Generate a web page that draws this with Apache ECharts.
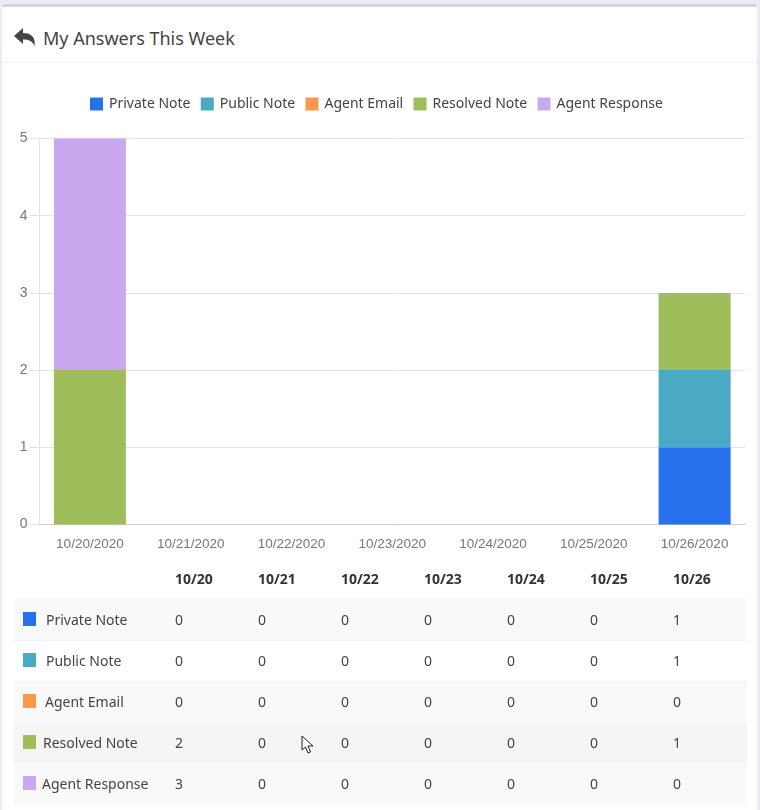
<!DOCTYPE html>
<html>
<head>
<meta charset="utf-8">
<title>My Answers This Week</title>
<script src="https://cdn.jsdelivr.net/npm/echarts@6/dist/echarts.min.js"></script>
<style>
  html, body { margin: 0; padding: 0; background: #e9edf3; }
  body { width: 760px; height: 810px; overflow: hidden; position: relative; font-family: "Noto Sans", sans-serif; color: #333; }
  .card { position: absolute; left: 2px; top: 4px; width: 755px; height: 806px; background: #fff; border-top: 3px solid #d0d4e0; border-radius: 3px 3px 0 0; box-sizing: border-box; }
  .head { position: absolute; left: 2px; top: 7px; width: 755px; height: 56px; border-bottom: 1px solid #f1f1f1; box-sizing: border-box; }
  .head svg { position: absolute; left: 11px; top: 19px; }
  .head span { position: absolute; left: 41px; top: 16px; font-size: 18px; line-height: 30px; color: #444; white-space: nowrap; }
  #chart { position: absolute; left: 0; top: 64px; width: 760px; height: 500px; }
  table { position: absolute; left: 14px; top: 558px; width: 733px; border-collapse: collapse; table-layout: fixed; font-size: 14px; }
  th { height: 41px; padding: 0; text-align: left; font-weight: 700; color: #333; }
  td { height: 41px; padding: 0; position: relative; color: #444; }
  tbody tr:nth-child(odd) { background: #f9f9f9; }
  tbody tr:nth-child(2) td, tbody tr:nth-child(3) td { box-shadow: inset 0 1px 0 #f1f1f1; }
  tbody tr.hover { background: #f5f5f5; }
  .sw { position: absolute; left: 9px; top: 13px; width: 13px; height: 14px; }
  .lb { position: absolute; top: 11px; line-height: 20px; white-space: nowrap; }
  #cursor { position: absolute; left: 301px; top: 735px; }
</style>
</head>
<body>
<div class="card"></div>
<div class="head">
  <svg width="24" height="22" viewBox="0 0 24 22"><path d="M1 10 L10 2 L10 7 C18 7 23 11 21.5 20 C19.5 15 16 13.5 10 13.5 L10 18 Z" fill="#444"/></svg>
  <span>My Answers This Week</span>
</div>
<div id="chart"></div>
<table id="tbl"><thead></thead><tbody></tbody></table>
<svg id="cursor" width="14" height="20" viewBox="0 0 14 20"><path d="M1 1 L1 15 L4.5 12 L7 18 L9.5 17 L7 11 L12 11 Z" fill="#fff" stroke="#222" stroke-width="1"/></svg>
<script>
var categories = ['10/20/2020', '10/21/2020', '10/22/2020', '10/23/2020', '10/24/2020', '10/25/2020', '10/26/2020'];
var shortDays = ['10/20', '10/21', '10/22', '10/23', '10/24', '10/25', '10/26'];
var seriesNames = ['Private Note', 'Public Note', 'Agent Email', 'Resolved Note', 'Agent Response'];
var seriesColors = ['#2771ec', '#4aaac4', '#fb984a', '#9fbd5b', '#c9a8ef'];
var privateNote = [0, 0, 0, 0, 0, 0, 1];
var publicNote = [0, 0, 0, 0, 0, 0, 1];
var agentEmail = [0, 0, 0, 0, 0, 0, 0];
var resolvedNote = [2, 0, 0, 0, 0, 0, 1];
var agentResponse = [3, 0, 0, 0, 0, 0, 0];
var seriesValues = [privateNote, publicNote, agentEmail, resolvedNote, agentResponse];

var myChart = echarts.init(document.getElementById('chart'));
var option = {
  animation: false,
  color: seriesColors,
  textStyle: { fontFamily: 'Liberation Sans' },
  legend: {
    top: 28,
    left: 85,
    itemWidth: 13,
    itemHeight: 13,
    itemGap: 10.3,
    icon: 'rect',
    textStyle: { fontFamily: 'Noto Sans', fontSize: 14, color: '#444', padding: [0, 0, 0, 1] },
    data: seriesNames
  },
  grid: { left: 39.5, right: 15, top: 74.5, height: 386, containLabel: false },
  xAxis: {
    type: 'category',
    data: categories,
    axisTick: { show: false },
    axisLine: { lineStyle: { color: '#ccc', width: 1 } },
    axisLabel: { color: '#777', fontSize: 13.5, margin: 13 }
  },
  yAxis: {
    type: 'value',
    min: 0,
    max: 5,
    interval: 1,
    axisLine: { show: true, lineStyle: { color: '#e3e3e3' } },
    axisTick: { show: true, length: 10, lineStyle: { color: '#e3e3e3' } },
    axisLabel: { color: '#777', fontSize: 14, margin: 12 },
    splitLine: { lineStyle: { color: '#e3e3e3', width: 1 } }
  },
  series: seriesNames.map(function (name, i) {
    return { name: name, type: 'bar', stack: 'total', barWidth: 72, data: seriesValues[i] };
  })
};
option && myChart.setOption(option);

// table below the chart, same arrays as the bars
var labelLeft = [32, 32, 31, 29, 28];
var colWidths = [83, 83, 83, 83, 83, 83, 74];
var head = '<tr><th style="width:161px"></th>' + shortDays.map(function (d, i) { return '<th style="width:' + colWidths[i] + 'px">' + d + '</th>'; }).join('') + '</tr>';
document.querySelector('#tbl thead').innerHTML = head;
document.querySelector('#tbl tbody').innerHTML = seriesNames.map(function (name, i) {
  var cells = seriesValues[i].map(function (v) { return '<td>' + v + '</td>'; }).join('');
  return '<tr' + (i === 3 ? ' class="hover"' : '') + '><td><span class="sw" style="background:' + seriesColors[i] + '"></span>' +
    '<span class="lb" style="left:' + labelLeft[i] + 'px">' + name + '</span></td>' + cells + '</tr>';
}).join('');
</script>
</body>
</html>
